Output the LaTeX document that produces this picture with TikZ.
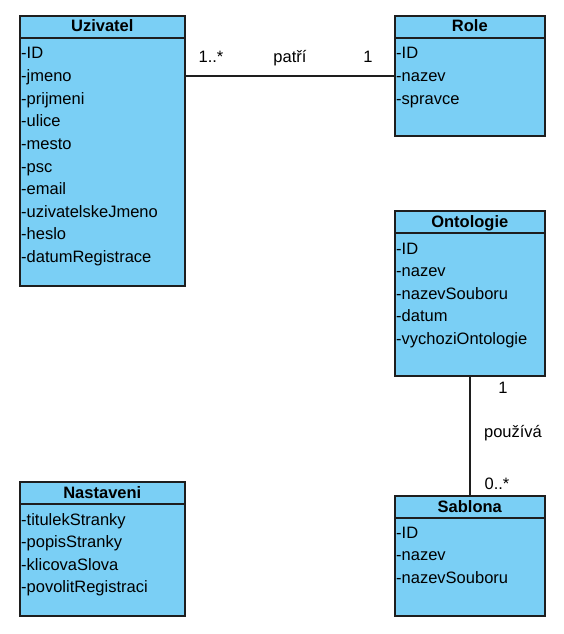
\documentclass[tikz,border=0pt]{standalone}
\usepackage{fontspec}
\setmainfont{Liberation Sans}
\usetikzlibrary{positioning}
\definecolor{classblue}{RGB}{122,207,245}
\definecolor{classline}{RGB}{30,30,30}

\begin{document}
\begin{tikzpicture}[x=1pt, y=1pt,
    font=\fontsize{16.5}{20}\selectfont,
    classbox/.style={rectangle, draw=classline, line width=1.6pt, fill=classblue,
    anchor=north west, inner sep=0pt},
    classhead/.style={rectangle, draw=classline, line width=1.6pt, minimum height=22pt,
    anchor=north, inner sep=0pt},
    classtitle/.style={font=\fontsize{16.5}{20}\selectfont\bfseries, anchor=base, inner sep=0pt},
    attr/.style={anchor=base west, inner sep=0pt},
    mult/.style={anchor=base, inner sep=0pt},
    assoc/.style={draw=classline, line width=1.6pt}
]
\useasboundingbox (0,0) rectangle (564,-634);

% Uzivatel
\node[classbox, minimum width=165pt, minimum height=270pt] (uzivatel) at (19,-15) {};
\node[classhead, minimum width=165pt] (uzivatel-head) at (uzivatel.north) {};
\node[classtitle] (uzivatel-title) at ([yshift=-17pt]uzivatel.north) {Uzivatel};
\foreach \a [count=\i] in {ID, jmeno, prijmeni, ulice, mesto, psc, email,
    uzivatelskeJmeno, heslo, datumRegistrace}
    \node[attr] (uzivatel-\i) at ([shift={(2,{-44-22.6*(\i-1)})}]uzivatel.north west) {-\a};

% Role
\node[classbox, minimum width=150pt, minimum height=120pt] (role) at (394,-15) {};
\node[classhead, minimum width=150pt] (role-head) at (role.north) {};
\node[classtitle] (role-title) at ([yshift=-17pt]role.north) {Role};
\foreach \a [count=\i] in {ID, nazev, spravce}
    \node[attr] (role-\i) at ([shift={(2,{-44-22.6*(\i-1)})}]role.north west) {-\a};

% Ontologie
\node[classbox, minimum width=150pt, minimum height=165pt] (ontologie) at (394,-210) {};
\node[classhead, minimum width=150pt] (ontologie-head) at (ontologie.north) {};
\node[classtitle] (ontologie-title) at ([yshift=-17pt]ontologie.north) {Ontologie};
\foreach \a [count=\i] in {ID, nazev, nazevSouboru, datum, vychoziOntologie}
    \node[attr] (ontologie-\i) at ([shift={(2,{-44-22.6*(\i-1)})}]ontologie.north west) {-\a};

% Sablona
\node[classbox, minimum width=150pt, minimum height=120pt] (sablona) at (394,-495) {};
\node[classhead, minimum width=150pt] (sablona-head) at (sablona.north) {};
\node[classtitle] (sablona-title) at ([yshift=-17pt]sablona.north) {Sablona};
\foreach \a [count=\i] in {ID, nazev, nazevSouboru}
    \node[attr] (sablona-\i) at ([shift={(2,{-43-22.6*(\i-1)})}]sablona.north west) {-\a};

% Nastaveni
\node[classbox, minimum width=165pt, minimum height=134pt] (nastaveni) at (19,-481) {};
\node[classhead, minimum width=165pt] (nastaveni-head) at (nastaveni.north) {};
\node[classtitle] (nastaveni-title) at ([yshift=-17pt]nastaveni.north) {Nastaveni};
\foreach \a [count=\i] in {titulekStranky, popisStranky, klicovaSlova, povolitRegistraci}
    \node[attr] (nastaveni-\i) at ([shift={(2,{-44-22.6*(\i-1)})}]nastaveni.north west) {-\a};

% associations
\draw[assoc] (role.west) -- (role.west -| uzivatel.east);
\node[mult] (patri-from) at (211,-63) {1..*};
\node[mult] (patri) at (290,-63) {patří};
\node[mult] (patri-to) at (368,-63) {1};

\draw[assoc] (ontologie.south) -- (sablona.north);
\node[mult] (pouziva-from) at (503,-393) {1};
\node[mult] (pouziva) at (513,-437) {používá};
\node[mult] (pouziva-to) at (497,-489) {0..*};

\end{tikzpicture}
\end{document}
